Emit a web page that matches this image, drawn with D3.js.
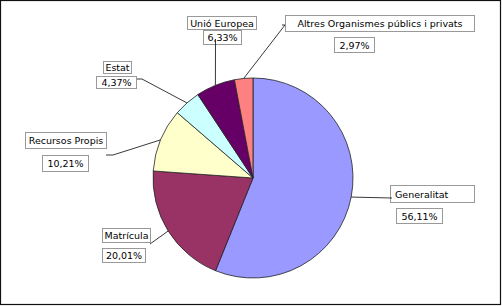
<!DOCTYPE html>
<html><head><meta charset="utf-8">
<script src="https://cdn.jsdelivr.net/npm/d3@7"></script>
<style>body{margin:0;background:#fff}svg{display:block}</style>
</head><body>
<svg id="c" width="502" height="306"></svg>
<script>
const categories = ["Generalitat","Matrícula","Recursos Propis","Estat","Unió Europea","Altres Organismes públics i privats"];
const values = [56.11, 20.01, 10.21, 4.37, 6.33, 2.97];
const valueLabels = ["56,11%","20,01%","10,21%","4,37%","6,33%","2,97%"];
const colors = ["#9999FF","#993366","#FFFFCC","#CCFFFF","#660066","#FF8080"];

// layout (positions only)
const cx = 253, cy = 178, R = 100;
const boxes = [
  {lab:[390,185,84,17,"start"], val:[396,208,46,15], line:[[392,198]]},
  {lab:[102,228,48,14], val:[102,248,43,14], line:[[150,244]]},
  {lab:[25,132,81,16], val:[42,155,46,16], line:[[106,155],[113,155]]},
  {lab:[103,61,28,12], val:[96,76,40,12], line:[[137,79],[142,79]]},
  {lab:[187,16,69,13], val:[203,30,38,14], line:[[215.5,39]]},
  {lab:[285,15,189,16], val:[334,37,40,15], line:[[282,25],[285,25]]}
];

const svg = d3.select("#c");
svg.append("rect").attr("x",0.5).attr("y",0.5).attr("width",500).attr("height",304)
  .attr("fill","#fff").attr("stroke","#111").attr("stroke-width",1.2);

const pie = d3.pie().sort(null).value(d=>d)(values);
const arc = d3.arc().innerRadius(0).outerRadius(R);
const edge = d3.arc().innerRadius(R).outerRadius(R);
const g = svg.append("g").attr("transform",`translate(${cx},${cy})`);
g.selectAll("path").data(pie).join("path")
  .attr("d",arc).attr("fill",(d,i)=>colors[i])
  .attr("stroke","#222").attr("stroke-width",0.8);

const font = "DejaVu Sans, Verdana, sans-serif";
function box(b, text){
  const [x,y,w,h,anchor] = b;
  svg.append("rect").attr("x",x+0.5).attr("y",y+0.5).attr("width",w).attr("height",h)
    .attr("fill","#fff").attr("stroke","#999").attr("stroke-width",1);
  svg.append("text").attr("x", anchor==="start" ? x+5 : x+w/2+0.5)
    .attr("y", y+h/2+4).attr("text-anchor", anchor||"middle")
    .attr("font-family",font).attr("font-size",9.5).attr("fill","#000").text(text);
}
pie.forEach((d,i)=>{
  box(boxes[i].lab, categories[i]);
  box(boxes[i].val, valueLabels[i]);
});
pie.forEach((d,i)=>{
  const [ex,ey] = edge.centroid(d);
  const pts = boxes[i].line.concat([[cx+ex, cy+ey]]);
  svg.append("path").attr("d", d3.line()(pts)).attr("fill","none")
    .attr("stroke","#222").attr("stroke-width",0.9);
});
</script>
</body></html>
